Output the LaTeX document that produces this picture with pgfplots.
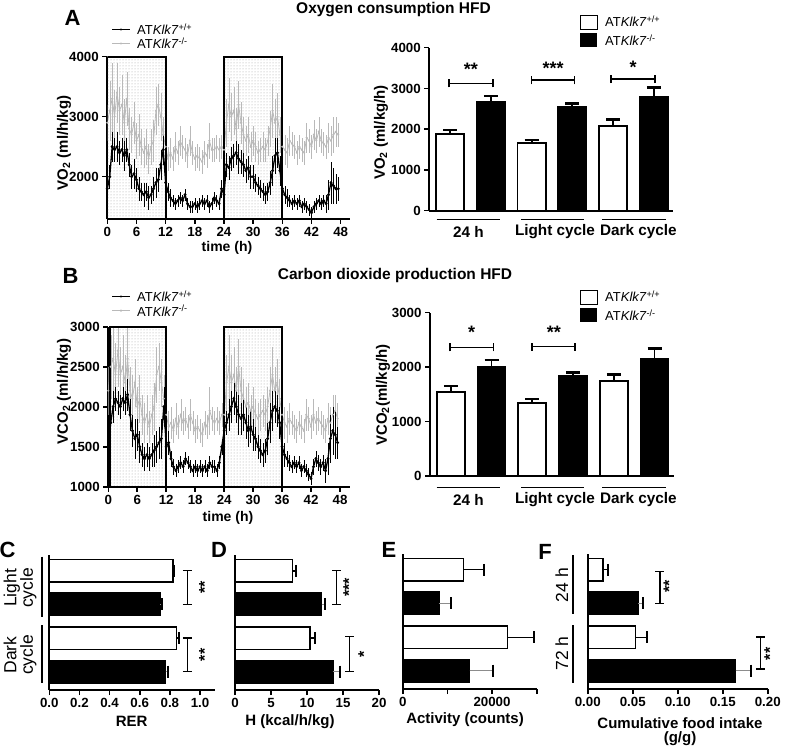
\documentclass[border=0pt]{standalone}
\usepackage{fontspec}
\setmainfont{Liberation Sans}
\usepackage{pgfplots}
\pgfplotsset{compat=1.18}
\usepackage{pgfplotstable}
\usetikzlibrary{patterns}

\pgfplotstableread{
t wt wte ko koe
0 1800 150 2900 300
0.5 2000 200 3100 500
1 2500 250 3300 600
1.5 2450 200 3000 450
2 2500 250 3400 500
2.5 2400 200 3100 400
3 2450 200 3200 500
3.5 2350 250 2900 400
4 2450 200 3300 450
4.5 2200 200 2800 350
5 2000 200 2700 300
5.5 2050 250 2900 350
6 1950 200 2600 300
6.5 1800 200 2700 350
7 1750 150 2500 300
7.5 1700 200 2400 250
8 1750 150 2500 300
8.5 1650 200 2300 250
9 1700 150 2500 300
9.5 1800 200 2600 350
10 1900 250 3100 400
10.5 1950 200 3200 350
11 2200 250 3000 400
11.5 2450 250 2700 300
12 1900 200 2500 250
12.5 1750 150 2300 200
13 1650 150 2400 250
13.5 1600 100 2300 200
14 1550 100 2500 250
14.5 1600 100 2400 200
15 1650 100 2600 250
15.5 1600 100 2500 200
16 1700 100 2450 200
16.5 1550 100 2350 200
17 1500 100 2600 250
17.5 1500 100 2400 200
18 1550 100 2300 200
18.5 1500 100 2350 200
19 1550 100 2300 200
19.5 1600 100 2250 200
20 1550 100 2400 200
20.5 1600 100 2350 200
21 1500 100 2600 300
21.5 1550 100 2450 200
22 1650 100 2450 200
22.5 1600 100 2500 200
23 1550 100 2450 200
23.5 1800 150 2500 200
24 1700 150 2450 200
24.5 2200 200 2900 400
25 2150 200 3200 450
25.5 2300 200 3000 400
26 2350 200 3100 400
26.5 2400 200 2800 350
27 2300 250 3200 400
27.5 2250 200 2900 350
28 2200 200 2700 300
28.5 2100 200 2600 250
29 2150 200 2700 300
29.5 2000 200 2500 250
30 2000 200 2600 250
30.5 1900 150 2500 250
31 1850 150 2400 200
31.5 1800 150 2450 200
32 1750 150 2500 250
32.5 1700 150 2450 200
33 1750 150 2600 250
33.5 1900 200 2800 300
34 2100 250 3100 450
34.5 2350 300 2900 400
35 2400 250 3000 400
35.5 2100 250 2700 300
36 1800 200 2500 250
36.5 1700 150 2450 250
37 1650 150 2400 250
37.5 1600 100 2600 250
38 1550 100 2550 200
38.5 1600 100 2500 200
39 1550 100 2400 200
39.5 1600 100 2500 200
40 1500 100 2450 200
40.5 1550 100 2400 200
41 1500 100 2650 250
41.5 1450 100 2600 200
42 1400 100 2500 200
42.5 1500 100 2700 250
43 1550 100 2600 200
43.5 1600 100 2750 250
44 1550 100 2600 200
44.5 1600 100 2550 200
45 1550 150 2500 200
45.5 1700 250 2650 250
46 1900 350 2600 250
46.5 1850 300 2700 300
47 1800 250 2750 250
47.5 1800 200 2700 200
}\dataA

\pgfplotstableread{
t wt wte ko koe
0 1500 150 2200 300
0.5 1800 200 2500 400
1 2000 200 2600 450
1.5 2100 150 2400 400
2 2050 150 2700 450
2.5 2000 150 2400 350
3 2100 150 2500 400
3.5 2050 150 2300 350
4 2150 200 2600 400
4.5 1900 200 2200 300
5 1700 200 2100 300
5.5 1600 250 2300 300
6 1650 200 2000 250
6.5 1500 200 2100 300
7 1400 150 1900 250
7.5 1350 150 1800 250
8 1400 150 1900 250
8.5 1350 150 1750 200
9 1400 150 1900 250
9.5 1450 200 2000 300
10 1500 200 2400 350
10.5 1550 200 2500 300
11 1600 250 2300 300
11.5 2000 250 2100 300
12 1500 150 1900 200
12.5 1550 150 1750 200
13 1350 100 1800 200
13.5 1250 100 1700 150
14 1200 80 1850 200
14.5 1250 80 1750 150
15 1300 80 1900 200
15.5 1250 80 1800 150
16 1350 80 1850 150
16.5 1300 80 1750 150
17 1250 80 1900 200
17.5 1200 80 1800 150
18 1250 80 1700 150
18.5 1200 80 1750 150
19 1250 80 1700 150
19.5 1200 80 1650 150
20 1250 80 1800 150
20.5 1200 80 1750 150
21 1300 80 1950 300
21.5 1250 80 1850 150
22 1250 80 1800 150
22.5 1200 80 1850 150
23 1300 80 1800 150
23.5 1500 100 1900 150
24 1700 150 1900 200
24.5 1800 150 2300 350
25 1900 200 2500 400
25.5 2000 200 2300 350
26 2100 200 2400 350
26.5 2000 200 2200 300
27 1900 250 2500 350
27.5 1850 200 2200 300
28 1900 200 2100 250
28.5 1800 200 2000 250
29 1700 200 2050 250
29.5 1750 200 1950 200
30 1650 200 2000 250
30.5 1600 150 1900 200
31 1500 150 1850 200
31.5 1450 150 1900 200
32 1400 150 1950 200
32.5 1450 150 1900 200
33 1600 200 2000 250
33.5 1800 250 2200 300
34 1950 250 2400 350
34.5 2000 200 2200 300
35 1950 200 2300 300
35.5 1800 200 2100 250
36 1500 150 1900 200
36.5 1400 150 1800 200
37 1350 100 1750 200
37.5 1300 100 1850 200
38 1250 80 1800 150
38.5 1300 80 1750 150
39 1250 80 1700 150
39.5 1300 80 1800 150
40 1200 80 1750 150
40.5 1250 80 1700 150
41 1200 80 1900 200
41.5 1150 80 1850 150
42 1100 80 1750 150
42.5 1250 100 1900 200
43 1350 100 1800 150
43.5 1300 100 1850 150
44 1250 100 1800 150
44.5 1300 100 1750 150
45 1200 150 1700 150
45.5 1350 200 1850 200
46 1600 300 1800 200
46.5 1700 300 1900 250
47 1650 300 1950 200
47.5 1550 200 1850 200
}\dataB

\newcommand{\fs}[1]{\fontsize{#1}{#1}\selectfont}
\newcommand\wt{AT\textit{Klk7}\textsuperscript{+/+}}
\newcommand\ko{AT\textit{Klk7}\textsuperscript{-/-}}

\pgfplotsset{
  prism/.style={scale only axis, axis lines=left, axis line style={line width=1.8pt,-},
    tick style={line width=1.6pt, black}, tick align=outside, major tick length=5pt,
    tick label style={font=\bfseries\fs{13.3}},
    /pgf/number format/assume math mode=true, /pgf/number format/1000 sep={},
    scaled ticks=false, anchor=south west},
  ts/.style={prism, xmin=0, xmax=50, xtick={0,6,...,48}},
  bars/.style={prism, xmin=0.49, xmax=6.47, xtick=\empty, clip=false},
  hbars/.style={prism, ymin=0.455, ymax=4.47, ytick=\empty, clip=false, height=135pt},
  wtline/.style={black, line width=1.3pt, mark=*, mark size=0.7pt,
    error bars/.cd, y dir=both, y explicit, error bar style={line width=0.5pt, black}, error mark=none},
  koline/.style={gray!55, line width=0.8pt, mark=*, mark size=0.6pt,
    error bars/.cd, y dir=both, y explicit, error bar style={line width=0.4pt, gray!55}, error mark=none},
  vbarW/.style={ybar, bar width=28pt, bar shift=0pt, fill=white, draw=black, line width=1.8pt,
    error bars/.cd, y dir=plus, y explicit, error bar style={line width=1.8pt, black},
    error mark=|, error mark options={mark size=7pt, line width=2.6pt, black}},
  vbarK/.style={ybar, bar width=28pt, bar shift=0pt, fill=black, draw=black, line width=1.8pt,
    error bars/.cd, y dir=plus, y explicit, error bar style={line width=1.8pt, black},
    error mark=|, error mark options={mark size=7pt, line width=2.6pt, black}},
  hbarW/.style={xbar, bar width=22.5pt, bar shift=0pt, fill=white, draw=black, line width=1.6pt,
    error bars/.cd, x dir=plus, x explicit, error bar style={line width=#1, black},
    error mark=|, error mark options={mark size=6pt, line width=2pt, black}},
  hbarK/.style={xbar, bar width=22.5pt, bar shift=0pt, fill=black, draw=black, line width=1.6pt,
    error bars/.cd, x dir=plus, x explicit, error bar style={line width=#1, black!45},
    error mark=|, error mark options={mark size=6pt, line width=2pt, black}},
}

\begin{document}
\begin{tikzpicture}[x=1pt,y=1pt]

%% ---------- A left ----------
\begin{axis}[ts, at={(107.3pt,528.3pt)}, width=243.1pt, height=162pt,
  ymin=1300, ymax=4000, ytick={2000,3000,4000}]
\fill[pattern=dots, pattern color=gray!75] (axis cs:0,1300) rectangle (axis cs:12,4000);
\fill[pattern=dots, pattern color=gray!75] (axis cs:24,1300) rectangle (axis cs:36,4000);
\addplot[koline] table[x=t, y=ko, y error=koe] {\dataA};
\addplot[wtline] table[x=t, y=wt, y error=wte] {\dataA};
\draw[line width=1.8pt] (axis cs:0,1300) rectangle (axis cs:12,4000);
\draw[line width=1.8pt] (axis cs:24,1300) rectangle (axis cs:36,4000);
\end{axis}

%% ---------- A right ----------
\begin{axis}[bars, at={(429.3pt,536.3pt)}, width=243.7pt, height=163pt,
  ymin=0, ymax=4000, ytick={0,1000,...,4000}]
\addplot[vbarW] coordinates {(1,1875) +- (0,105) (3,1654) +- (0,81) (5,2086) +- (0,157)};
\addplot[vbarK] coordinates {(2,2660) +- (0,155) (4,2537) +- (0,89) (6,2798) +- (0,220)};
\draw[line width=1.6pt] (axis cs:0.98,3026) -- (axis cs:0.98,3226) (axis cs:0.98,3126) -- (axis cs:2.05,3126) (axis cs:2.05,3026) -- (axis cs:2.05,3226);
\draw[line width=1.6pt] (axis cs:3.0,3100) -- (axis cs:3.0,3300) (axis cs:3.0,3200) -- (axis cs:4.05,3200) (axis cs:4.05,3100) -- (axis cs:4.05,3300);
\draw[line width=1.6pt] (axis cs:4.95,3132) -- (axis cs:4.95,3332) (axis cs:4.95,3232) -- (axis cs:6.03,3232) (axis cs:6.03,3132) -- (axis cs:6.03,3332);
\node[font=\bfseries\fs{18}] at (axis cs:1.51,3480) {**};
\node[font=\bfseries\fs{18}] at (axis cs:3.53,3500) {***};
\node[font=\bfseries\fs{18}] at (axis cs:5.49,3520) {*};
\end{axis}

%% ---------- B left ----------
\begin{axis}[ts, at={(108.3pt,260.3pt)}, width=241.4pt, height=160pt,
  ymin=1000, ymax=3000, ytick={1000,1500,...,3000}]
\fill[pattern=dots, pattern color=gray!75] (axis cs:0.4,1000) rectangle (axis cs:12,3000);
\fill[pattern=dots, pattern color=gray!75] (axis cs:24,1000) rectangle (axis cs:36,3000);
\addplot[koline] table[x=t, y=ko, y error=koe] {\dataB};
\addplot[wtline] table[x=t, y=wt, y error=wte] {\dataB};
\draw[line width=1.8pt] (axis cs:0.4,1000) rectangle (axis cs:12,3000);
\draw[line width=1.8pt] (axis cs:24,1000) rectangle (axis cs:36,3000);
\end{axis}

%% ---------- B right ----------
\begin{axis}[bars, at={(430pt,271pt)}, width=243.7pt, height=163.3pt,
  ymin=0, ymax=3000, ytick={0,1000,...,3000}]
\addplot[vbarW] coordinates {(1,1549) +- (0,105) (3,1347) +- (0,68) (5,1751) +- (0,117)};
\addplot[vbarK] coordinates {(2,1997) +- (0,134) (4,1837) +- (0,68) (6,2155) +- (0,191)};
\draw[line width=1.6pt] (axis cs:0.98,2289) -- (axis cs:0.98,2439) (axis cs:0.98,2364) -- (axis cs:2.05,2364) (axis cs:2.05,2289) -- (axis cs:2.05,2439);
\draw[line width=1.6pt] (axis cs:3.0,2301) -- (axis cs:3.0,2451) (axis cs:3.0,2376) -- (axis cs:4.05,2376) (axis cs:4.05,2301) -- (axis cs:4.05,2451);
\node[font=\bfseries\fs{18}] at (axis cs:1.51,2640) {*};
\node[font=\bfseries\fs{18}] at (axis cs:3.53,2640) {**};
\end{axis}

%% ---------- C ----------
\begin{axis}[hbars, at={(49.3pt,57pt)}, width=165.8pt, xmin=0, xmax=1.1,
  xtick={0,0.2,0.4,0.6,0.8,1.0},
  xticklabel style={/pgf/number format/.cd, fixed, fixed zerofill, precision=1}]
\addplot[hbarW=1.6pt] coordinates {(0.819,4) +- (0.008,0) (0.845,2) +- (0.015,0)};
\addplot[hbarK=1.6pt] coordinates {(0.735,3) +- (0.015,0) (0.772,1) +- (0.018,0)};
\draw[line width=1.3pt] (axis cs:0.886,4) -- (axis cs:0.946,4) (axis cs:0.916,4) -- (axis cs:0.916,3) (axis cs:0.886,3) -- (axis cs:0.946,3);
\draw[line width=1.3pt] (axis cs:0.886,2) -- (axis cs:0.946,2) (axis cs:0.916,2) -- (axis cs:0.916,1) (axis cs:0.886,1) -- (axis cs:0.946,1);
\node[rotate=90, font=\bfseries\fs{16}] at (axis cs:1.03,3.5) {**};
\node[rotate=90, font=\bfseries\fs{16}] at (axis cs:1.03,1.5) {**};
\end{axis}

%% ---------- D ----------
\begin{axis}[hbars, at={(235pt,57pt)}, width=144pt, xmin=0, xmax=20,
  xtick={0,5,10,15,20}]
\addplot[hbarW=1.6pt] coordinates {(8.01,4) +- (0.46,0) (10.4,2) +- (0.7,0)};
\addplot[hbarK=1.6pt] coordinates {(12.04,3) +- (0.46,0) (13.57,1) +- (1.0,0)};
\draw[line width=1.3pt] (axis cs:13.5,4) -- (axis cs:14.7,4) (axis cs:14.1,4) -- (axis cs:14.1,3) (axis cs:13.5,3) -- (axis cs:14.7,3);
\draw[line width=1.3pt] (axis cs:15.3,2.05) -- (axis cs:16.5,2.05) (axis cs:15.9,2.05) -- (axis cs:15.9,1) (axis cs:15.3,1) -- (axis cs:16.5,1);
\node[rotate=90, font=\bfseries\fs{16}] at (axis cs:15.8,3.5) {***};
\node[rotate=90, font=\bfseries\fs{16}] at (axis cs:17.9,1.5) {*};
\end{axis}

%% ---------- E ----------
\begin{axis}[hbars, at={(402.7pt,58pt)}, width=134pt, xmin=0, xmax=30000,
  xtick={0,10000,20000,30000}, xticklabels={0,,20000,}]
\addplot[hbarW=0.9pt] coordinates {(13618,4) +- (4500,0) (23500,2) +- (6000,0)};
\addplot[hbarK=0.9pt] coordinates {(8090,3) +- (2700,0) (14970,1) +- (5250,0)};
\end{axis}

%% ---------- F ----------
\begin{axis}[hbars, at={(587.7pt,58pt)}, width=180pt, xmin=0, xmax=0.2,
  xtick={0,0.05,0.10,0.15,0.20},
  xticklabel style={/pgf/number format/.cd, fixed, fixed zerofill, precision=2}]
\addplot[hbarW=0.9pt] coordinates {(0.0173,4) +- (0.0056,0) (0.0533,2) +- (0.0123,0)};
\addplot[hbarK=0.9pt] coordinates {(0.0556,3) +- (0.0062,0) (0.1644,1) +- (0.0166,0)};
\draw[line width=1.3pt] (axis cs:0.0753,3.95) -- (axis cs:0.0853,3.95) (axis cs:0.0803,3.95) -- (axis cs:0.0803,3.0) (axis cs:0.0753,3.0) -- (axis cs:0.0853,3.0);
\draw[line width=1.3pt] (axis cs:0.187,2.0) -- (axis cs:0.197,2.0) (axis cs:0.192,2.0) -- (axis cs:0.192,1.05) (axis cs:0.187,1.05) -- (axis cs:0.197,1.05);
\node[rotate=90, font=\bfseries\fs{16}] at (axis cs:0.0905,3.5) {**};
\node[rotate=90, font=\bfseries\fs{16}] at (axis cs:0.2025,1.5) {**};
\end{axis}

%% ---------- annotations in image coordinates ----------
\begin{scope}[yshift=747pt, y=-1pt]
% panel letters and titles
\node[font=\bfseries\fs{22}] at (72.5,18.3) {A};
\node[font=\bfseries\fs{22}] at (70.5,275.7) {B};
\node[font=\bfseries\fs{22}] at (7.5,550) {C};
\node[font=\bfseries\fs{22}] at (219,549.5) {D};
\node[font=\bfseries\fs{22}] at (389,549.5) {E};
\node[font=\bfseries\fs{22}] at (545,551.7) {F};
\node[font=\bfseries\fs{15.5}] at (393.5,10) {Oxygen consumption HFD};
\node[font=\bfseries\fs{15.5}] at (395,275) {Carbon dioxide production HFD};
% axis labels
\node[font=\bfseries\fs{15}, rotate=90] at (64,143) {VO\textsubscript{2} (ml/h/kg)};
\node[font=\bfseries\fs{15}, rotate=90] at (381,132.5) {VO\textsubscript{2} (ml/kg/h)};
\node[font=\bfseries\fs{15}, rotate=90] at (64,391.7) {VCO\textsubscript{2} (ml/h/kg)};
\node[font=\bfseries\fs{15}, rotate=90] at (383,395) {VCO\textsubscript{2}(ml/kg/h)};
\node[font=\bfseries\fs{14}] at (227,248) {time (h)};
\node[font=\bfseries\fs{14}] at (228,518) {time (h)};
\node[font=\bfseries\fs{15}] at (131.7,721.7) {RER};
\node[font=\bfseries\fs{15}] at (290,721.7) {H (kcal/h/kg)};
\node[font=\bfseries\fs{15}] at (465,720) {Activity (counts)};
\node[font=\bfseries\fs{15}] at (680,723.5) {Cumulative food intake};
\node[font=\bfseries\fs{15}] at (680,738.5) {(g/g)};
% group lines and labels under bar charts
\foreach \yl/\yt in {219.3/231.7, 487.3/500} {
  \draw[line width=1.5pt] (436.7,\yl) -- (500,\yl) (521,\yl) -- (584,\yl) (602.3,\yl) -- (666,\yl);
  \node[font=\bfseries\fs{15.3}] at (468.3,\yt) {24 h};
  \node[font=\bfseries\fs{15.3}] at (555,\yt) {Light cycle};
  \node[font=\bfseries\fs{15.3}] at (638.3,\yt) {Dark cycle};
}
% category brackets for horizontal bars
\draw[line width=1.8pt] (41.7,556.7) -- (41.7,616.7) (41.7,625) -- (41.7,683.3);
\node[rotate=90, align=center, font=\fs{17.5}, inner sep=0pt] at (20,588) {Light\\[-1pt]cycle};
\node[rotate=90, align=center, font=\fs{17.5}, inner sep=0pt] at (20,655) {Dark\\[-1pt]cycle};
\draw[line width=1.8pt] (573.3,555) -- (573.3,614) (573.3,625) -- (573.3,682.7);
\node[rotate=90, font=\fs{17.5}] at (561.7,585) {24 h};
\node[rotate=90, font=\fs{17.5}] at (561.7,653.3) {72 h};
% legends: time series
\foreach \yy/\cc/\lw/\tx in {29.5/black/1.3pt/\wt, 43.5/gray!55/0.8pt/\ko, 296.5/black/1.3pt/\wt, 310.7/gray!55/0.8pt/\ko} {
  \draw[\cc, line width=\lw] (112,\yy) -- (130,\yy);
  \fill[\cc] (121,\yy) circle (1.2pt);
  \node[anchor=west, font=\fs{13}, inner sep=0pt] at (137,\yy) {\tx};
}
% legends: bars
\draw[line width=0.6pt, fill=white] (580,15) rectangle (597.3,29.3);
\fill[black] (580,33.3) rectangle (597.3,46.7);
\node[anchor=west, font=\fs{13}, inner sep=0pt] at (605,21.5) {\wt};
\node[anchor=west, font=\fs{13}, inner sep=0pt] at (605,40.5) {\ko};
\draw[line width=0.6pt, fill=white] (580,290) rectangle (597.3,304);
\fill[black] (580,308.3) rectangle (597.3,321.7);
\node[anchor=west, font=\fs{13}, inner sep=0pt] at (605,296.5) {\wt};
\node[anchor=west, font=\fs{13}, inner sep=0pt] at (605,315.5) {\ko};
\end{scope}

\pgfresetboundingbox
\path[use as bounding box] (0,0) rectangle (786pt,747pt);
\end{tikzpicture}
\end{document}
